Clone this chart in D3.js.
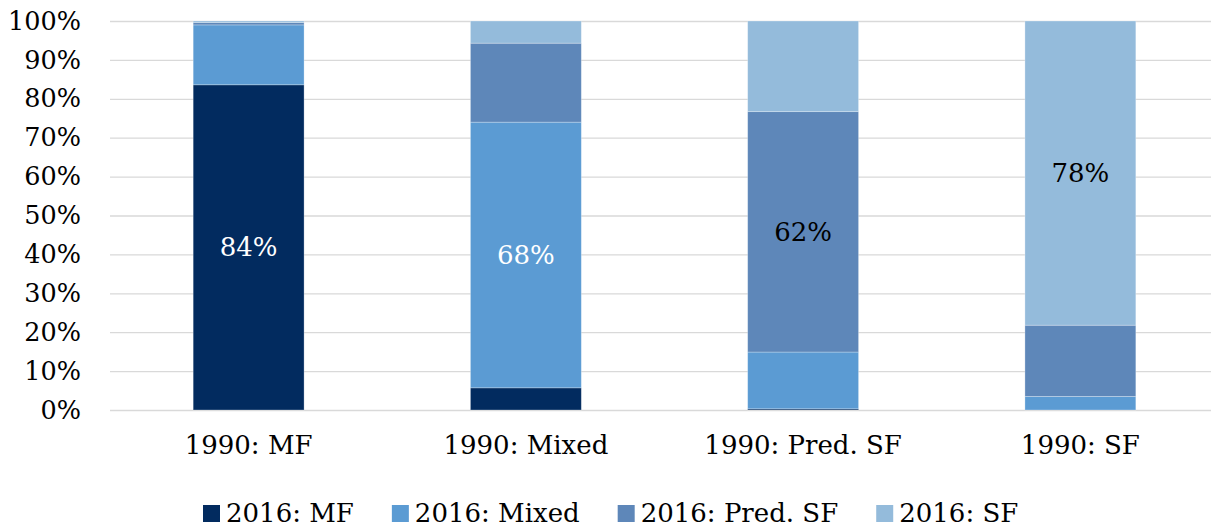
<!DOCTYPE html>
<html>
<head>
<meta charset="utf-8">
<script src="https://cdn.jsdelivr.net/npm/d3@7"></script>
<style>
  body { margin: 0; background: #fff; }
  text { font-family: "DejaVu Serif", serif; fill: #000; }
</style>
</head>
<body>
<div class="content"></div>
<script>
var categories = ["1990: MF", "1990: Mixed", "1990: Pred. SF", "1990: SF"];
var seriesNames = ["2016: MF", "2016: Mixed", "2016: Pred. SF", "2016: SF"];
var mf     = [0.836, 0.057, 0.003, 0.000];
var mixed  = [0.154, 0.683, 0.146, 0.035];
var predSF = [0.006, 0.203, 0.618, 0.183];
var sf     = [0.004, 0.057, 0.233, 0.782];
var colors = ["#022b5f", "#5b9bd3", "#5e87b9", "#94bbdb"];
var labelColors = ["#fff", "#fff", "#000", "#000"];

function render() {
  var width = 1211, height = 528;
  var plot = {left: 110, right: 1219, top: 21, bottom: 410};

  var svg = d3.select(".content").append("svg")
      .attr("width", width)
      .attr("height", height);

  var x = d3.scaleBand().domain(categories)
      .range([plot.left, plot.right])
      .paddingInner(0.6).paddingOuter(0.3);
  var y = d3.scaleLinear().domain([0, 1]).range([plot.bottom, plot.top]);

  // gridlines
  svg.append("g")
      .attr("transform", "translate(" + plot.left + ",0)")
      .call(d3.axisLeft(y).ticks(10).tickSize(-(plot.right - plot.left)).tickFormat(""))
      .call(function(g) { g.select(".domain").remove(); })
      .selectAll("line").attr("stroke", "#d9d9d9").attr("stroke-width", 1.3);

  // y labels
  svg.append("g")
      .attr("transform", "translate(" + plot.left + ",0)")
      .call(d3.axisLeft(y).ticks(10).tickSize(0).tickPadding(29).tickFormat(d3.format(".0%")))
      .call(function(g) { g.select(".domain").remove(); })
      .selectAll("text").style("font-size", "25.5px").attr("fill", "#000");

  var rows = categories.map(function(c, i) {
    return {cat: c, mf: mf[i], mixed: mixed[i], predSF: predSF[i], sf: sf[i]};
  });
  var keys = ["mf", "mixed", "predSF", "sf"];
  var stacked = d3.stack().keys(keys)(rows);

  svg.append("g").selectAll("g")
    .data(stacked)
    .join("g")
      .attr("fill", function(d, i) { return colors[i]; })
    .selectAll("rect")
    .data(function(d) { return d; })
    .join("rect")
      .attr("x", function(d) { return x(d.data.cat); })
      .attr("y", function(d) { return y(d[1]); })
      .attr("width", x.bandwidth())
      .attr("height", function(d) { return y(d[0]) - y(d[1]); })
      .attr("stroke", "#fff")
      .attr("stroke-opacity", 0.35)
      .attr("stroke-width", 0.8);

  // value labels on the diagonal segment
  svg.append("g").selectAll("text")
    .data(categories)
    .join("text")
      .attr("x", function(d) { return x(d) + x.bandwidth() / 2; })
      .attr("y", function(d, i) { var s = stacked[i][i]; return y((s[0] + s[1]) / 2); })
      .attr("dy", "0.35em")
      .attr("text-anchor", "middle")
      .style("font-size", "26px")
      .style("fill", function(d, i) { return labelColors[i]; })
      .text(function(d, i) { return d3.format(".0%")(stacked[i][i][1] - stacked[i][i][0]); });

  // x labels
  svg.append("g")
      .attr("transform", "translate(0," + plot.bottom + ")")
      .call(d3.axisBottom(x).tickSize(0).tickPadding(26))
      .call(function(g) { g.select(".domain").remove(); })
      .selectAll("text").style("font-size", "26px").attr("fill", "#000");

  // legend
  var legend = svg.append("g").attr("transform", "translate(0,513)");
  var items = legend.selectAll("g").data(seriesNames).join("g");
  items.append("rect")
      .attr("y", -8).attr("width", 17).attr("height", 17)
      .attr("fill", function(d, i) { return colors[i]; });
  items.append("text")
      .attr("x", 23).attr("dy", "0.35em")
      .style("font-size", "26px")
      .text(function(d) { return d; });
  var pos = 203;
  items.each(function() {
    var g = d3.select(this);
    g.attr("transform", "translate(" + pos + ",0)");
    pos += 23 + g.select("text").node().getComputedTextLength() + 38;
  });
}
render();
</script>
</body>
</html>
